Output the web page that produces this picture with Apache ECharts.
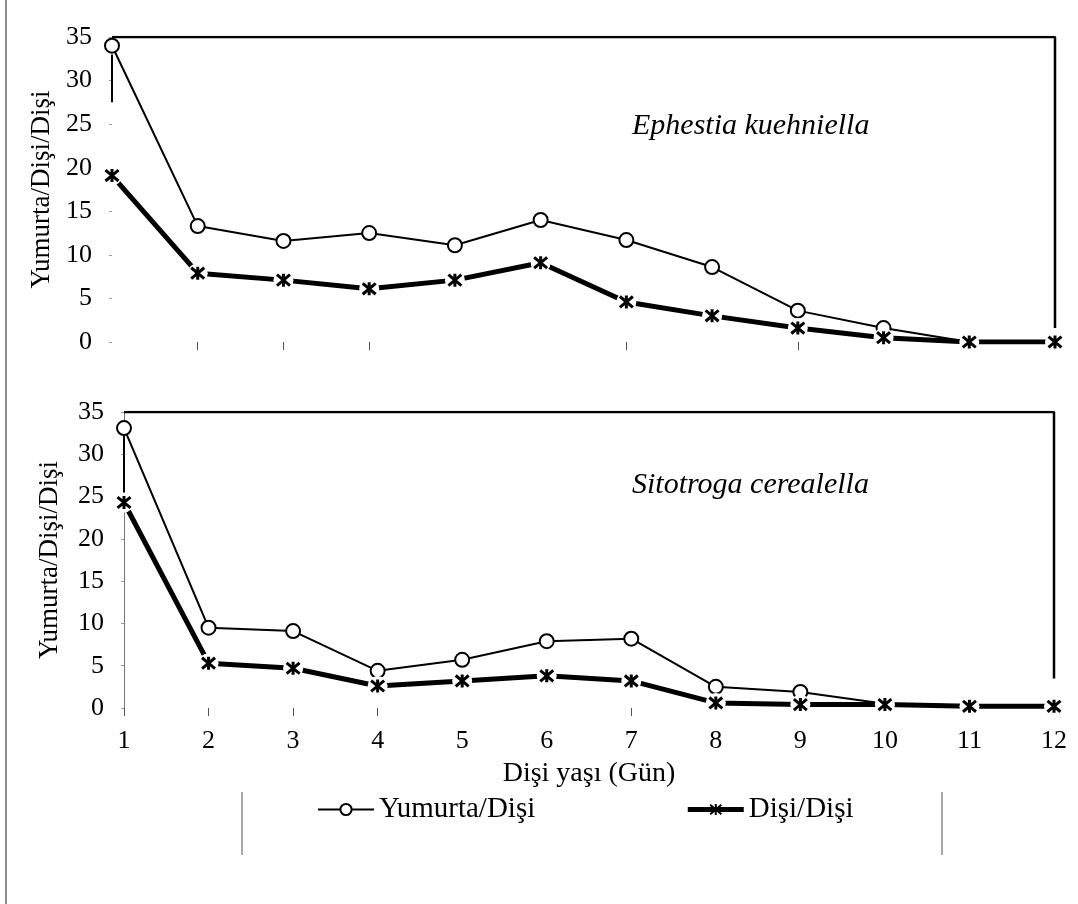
<!DOCTYPE html>
<html>
<head>
<meta charset="utf-8">
<script src="https://cdn.jsdelivr.net/npm/echarts@6/dist/echarts.min.js"></script>
<style>html,body{margin:0;padding:0;background:#fff;}#c{width:1078px;height:904px;}</style>
</head>
<body>
<div id="c"></div>
<script>
// ---- data ----
const days = ['1','2','3','4','5','6','7','8','9','10','11','12'];
const yTicks = [0, 5, 10, 15, 20, 25, 30, 35];
// Ephestia kuehniella (top panel)
const ekYumurta = [34.0, 13.3, 11.6, 12.5, 11.1, 14.0, 11.7, 8.6, 3.6, 1.6, 0.0, 0.0];
const ekDisi    = [19.1, 7.9, 7.1, 6.1, 7.1, 9.1, 4.6, 3.0, 1.6, 0.5, 0.0, 0.0];
// Sitotroga cerealella (bottom panel)
const scYumurta = [33.1, 9.5, 9.1, 4.4, 5.7, 7.9, 8.2, 2.5, 1.9, 0.5, 0.3, 0.3];
const scDisi    = [24.3, 5.3, 4.7, 2.6, 3.2, 3.8, 3.2, 0.6, 0.4, 0.4, 0.2, 0.2];
// frame lines (in data coordinates)
const ekFrame = [['1', 35], ['12', 35], ['12', 1.6]];
const ekBar   = [['1', 33], ['1', 27.5]];
const scFrame = [['1', 35], ['12', 35], ['12', 3.5]];
const scBar   = [['1', 33], ['1', 24.5]];
const speciesTop = 'Ephestia kuehniella';
const speciesBottom = 'Sitotroga cerealella';
const yName = 'Yumurta/Dişi/Dişi';
const xName = 'Dişi yaşı (Gün)';
const nameYumurta = 'Yumurta/Dişi';
const nameDisi = 'Dişi/Dişi';

// ---- chart ----
const FONT = 'Liberation Serif';
const AST = 'path://M0,0L10,10M10,0L0,10M5,-1L5,11';
const chart = echarts.init(document.getElementById('c'));

function panelSeries(idx, yum, disi, frame, bar) {
  return [
    { type: 'line', xAxisIndex: idx, yAxisIndex: idx, data: frame, symbol: 'none',
      lineStyle: { color: '#000', width: 2.5 }, z: 1, silent: true },
    { type: 'line', xAxisIndex: idx, yAxisIndex: idx, data: bar, symbol: 'none',
      lineStyle: { color: '#000', width: 2 }, z: 1, silent: true },
    { name: nameDisi, type: 'line', xAxisIndex: idx, yAxisIndex: idx, data: disi,
      symbol: AST, symbolSize: 13,
      itemStyle: { color: '#000', borderColor: '#000', borderWidth: 3 },
      lineStyle: { color: '#000', width: 5 }, z: 2 },
    { name: nameYumurta, type: 'line', xAxisIndex: idx, yAxisIndex: idx, data: yum,
      symbol: 'circle', symbolSize: 14,
      itemStyle: { color: '#fff', borderColor: '#000', borderWidth: 2 },
      lineStyle: { color: '#000', width: 2 }, z: 3 },
    { type: 'line', xAxisIndex: idx, yAxisIndex: idx, data: disi,
      symbol: 'circle', symbolSize: 20,
      itemStyle: { color: '#fff', borderWidth: 0 },
      lineStyle: { opacity: 0 }, z: 4, silent: true },
    { type: 'line', xAxisIndex: idx, yAxisIndex: idx, data: disi,
      symbol: AST, symbolSize: 13,
      itemStyle: { color: '#000', borderColor: '#000', borderWidth: 3 },
      lineStyle: { opacity: 0 }, z: 5, silent: true }
  ];
}

const yAxisBase = (gridIndex, showLine, nameGap) => ({
  type: 'value', gridIndex, min: yTicks[0], max: yTicks[yTicks.length - 1], interval: 5,
  splitLine: { show: false },
  axisLine: { show: showLine, lineStyle: { color: '#777', width: 1 } },
  axisTick: { show: true, length: 3, lineStyle: { color: '#999' } },
  axisLabel: { color: '#000', fontFamily: FONT, fontSize: 26, margin: 20 },
  name: yName, nameLocation: 'middle', nameGap,
  nameTextStyle: { color: '#000', fontFamily: FONT, fontSize: 27 }
});

const option = {
  animation: false,
  backgroundColor: '#fff',
  grid: [
    { left: 112, top: 37, width: 943, height: 305 },
    { left: 124, top: 412, width: 930, height: 296 }
  ],
  xAxis: [
    { type: 'category', gridIndex: 0, data: days, boundaryGap: false,
      axisLine: { show: false },
      axisTick: { show: true, length: 8, interval: (i) => [1,2,3,6,8].includes(i), lineStyle: { color: '#555' } },
      axisLabel: { show: false } },
    { type: 'category', gridIndex: 1, data: days, boundaryGap: false,
      axisLine: { show: false },
      axisTick: { show: true, length: 8, interval: (i) => [0,1,2,3,6].includes(i), lineStyle: { color: '#555' } },
      axisLabel: { color: '#000', fontFamily: FONT, fontSize: 26, margin: 20 },
      name: xName, nameLocation: 'middle', nameGap: 52,
      nameTextStyle: { color: '#000', fontFamily: FONT, fontSize: 28 } }
  ],
  yAxis: [ yAxisBase(0, false, 51), yAxisBase(1, true, 61) ],
  legend: {
    data: [
      { name: nameYumurta },
      { name: nameDisi, lineStyle: { width: 5 } }
    ],
    left: 312, top: 790, itemGap: 150, itemWidth: 56, itemHeight: 14,
    textStyle: { color: '#000', fontFamily: FONT, fontSize: 29 }
  },
  graphic: [
    { type: 'text', left: 632, top: 111, style: { text: speciesTop, font: 'italic 30px "Liberation Serif"', fill: '#000' } },
    { type: 'text', left: 632, top: 470, style: { text: speciesBottom, font: 'italic 30px "Liberation Serif"', fill: '#000' } },
    { type: 'line', shape: { x1: 242, y1: 792, x2: 242, y2: 855 }, style: { stroke: '#555', lineWidth: 1 } },
    { type: 'line', shape: { x1: 942, y1: 792, x2: 942, y2: 855 }, style: { stroke: '#555', lineWidth: 1 } },
    { type: 'line', shape: { x1: 6, y1: 0, x2: 6, y2: 904 }, style: { stroke: '#444', lineWidth: 1.2 } }
  ],
  series: [
    ...panelSeries(0, ekYumurta, ekDisi, ekFrame, ekBar),
    ...panelSeries(1, scYumurta, scDisi, scFrame, scBar)
  ]
};
chart.setOption(option);
</script>
</body>
</html>
